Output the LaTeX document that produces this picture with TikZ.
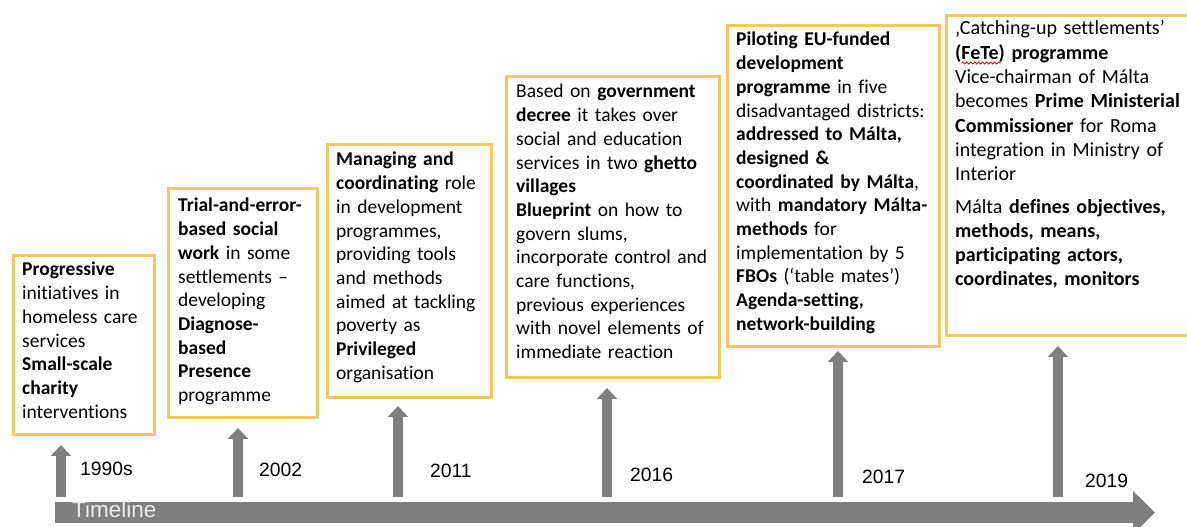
\documentclass[tikz,border=0pt]{standalone}
\usepackage{fontspec}
\setmainfont{Carlito}[Ligatures=NoCommon]
\newfontfamily\yearfont{Liberation Sans}
\usetikzlibrary{arrows.meta,decorations.pathmorphing}

\definecolor{cardedge}{HTML}{F6C85F}
\definecolor{timegray}{HTML}{7F7F7F}

\tikzset{
  card/.style={draw=cardedge, line width=3pt, anchor=north west, inner sep=0pt},
  cardtext/.style={anchor=base west, inner sep=0pt, align=left, font={\fontsize{19.5}{23.7}\selectfont}},
  year/.style={anchor=base west, inner sep=0pt, font={\yearfont\fontsize{19.3}{22}\selectfont}},
  riser/.style={draw=timegray, line width=10pt, -{Triangle[width=20pt,length=11pt]}, shorten >=9pt},
  spellwave/.style={red, line width=0.8pt, decorate, decoration={snake, amplitude=1pt, segment length=4pt}},
}

\begin{document}
\begin{tikzpicture}[x=1pt,y=1pt]
    \useasboundingbox (0,0) rectangle (1187,527);
    \clip (0,0) rectangle (1187,527);

    % frames
    \node[card, minimum width=141, minimum height=179] (p1990) at (12,273) {};
    \node[card, minimum width=149, minimum height=229] (p2002) at (167,340) {};
    \node[card, minimum width=164, minimum height=253] (p2011) at (326,384) {};
    \node[card, minimum width=213, minimum height=301] (p2016) at (505,452) {};
    \node[card, minimum width=212, minimum height=321] (p2017) at (726,503) {};
    \node[card, minimum width=250, minimum height=320] (p2019) at (945,513) {};

    % texts
    \node[cardtext, text width=130] (t1990) at (22,251) {\textbf{Progressive}\\ initiatives in\\ homeless care\\ services\\ \textbf{Small-scale}\\ \textbf{charity}\\ interventions};
    \node[cardtext, text width=137] (t2002) at (178,315) {\textbf{Trial-and-error-}\\ \textbf{based social}\\ \textbf{work} in some\\ settlements –\\ developing\\ \textbf{Diagnose-}\\ \textbf{based}\\ \textbf{Presence}\\ programme};
    \node[cardtext, text width=153] (t2011) at (336,361) {\textbf{Managing and}\\ \textbf{coordinating} role\\ in development\\ programmes,\\ providing tools\\ and methods\\ aimed at tackling\\ poverty as\\ \textbf{Privileged}\\ organisation};
    \node[cardtext, text width=200] (t2016) at (516,429) {Based on \textbf{government}\\ \textbf{decree} it takes over\\ social and education\\ services in two \textbf{ghetto}\\ \textbf{villages}\\ \textbf{Blueprint} on how to\\ govern slums,\\ incorporate control and\\ care functions,\\ previous experiences\\ with novel elements of\\ immediate reaction};
    \node[cardtext, text width=200] (t2017) at (736,481) {\textbf{Piloting EU-funded}\\ \textbf{development}\\ \textbf{programme} in five\\ disadvantaged districts:\\ \textbf{addressed to Málta,}\\ \textbf{designed \&}\\ \textbf{coordinated by Málta},\\ with \textbf{mandatory Málta-}\\ \textbf{methods} for\\ implementation by 5\\ \textbf{FBOs} (‘table mates’)\\ \textbf{Agenda-setting,}\\ \textbf{network-building}};
    \node[cardtext, text width=232, font={\fontsize{20}{24.3}\selectfont}] (t2019) at (955,492) {‚Catching-up settlements’\\ \textbf{(FeTe) programme}\\ Vice-chairman of Málta\\ becomes \textbf{Prime Ministerial}\\ \textbf{Commissioner} for Roma\\ integration in Ministry of\\ Interior\\[8pt] Málta \textbf{defines objectives,}\\ \textbf{methods, means,}\\ \textbf{participating actors,}\\ \textbf{coordinates, monitors}};
    % spell-check mark under FeTe
    \draw[spellwave] ([shift={(6.5,-28)}]t2019.base west) -- ++(39,0);

    % timeline
    \coordinate (tl-start) at (55,14.5);
    \coordinate (tl-end) at (1155,14.5);
    \draw[timegray, line width=21pt, -{Triangle[width=42pt,length=22pt]}] (tl-start) -- (tl-end);
    \node[anchor=base west, inner sep=0pt, text=white!93!black, font={\yearfont\fontsize{22.5}{24}\selectfont}] (timeline) at (72,9) {Timeline};

    % rising arrows
    \coordinate (a1990) at (61,30);
    \coordinate (a2002) at (238,30);
    \coordinate (a2011) at (398,30);
    \coordinate (a2016) at (607,30);
    \coordinate (a2017) at (838,30);
    \coordinate (a2019) at (1058,30);
    \draw[riser] (a1990) -- (a1990 |- p1990.south);
    \draw[riser] (a2002) -- (a2002 |- p2002.south);
    \draw[riser, shorten >=7pt] (a2011) -- (a2011 |- p2011.south);
    \draw[riser] (a2016) -- (a2016 |- p2016.south);
    \draw[riser, shorten >=3pt] (a2017) -- (a2017 |- p2017.south);
    \draw[riser] (a2019) -- (a2019 |- p2019.south);

    % years
    \node[year] (y1990) at (80,51) {1990s};
    \node[year] (y2002) at (259,50) {2002};
    \node[year] (y2011) at (430,49) {2011};
    \node[year] (y2016) at (630,45) {2016};
    \node[year] (y2017) at (862,43) {2017};
    \node[year] (y2019) at (1085,39) {2019};
\end{tikzpicture}
\end{document}
